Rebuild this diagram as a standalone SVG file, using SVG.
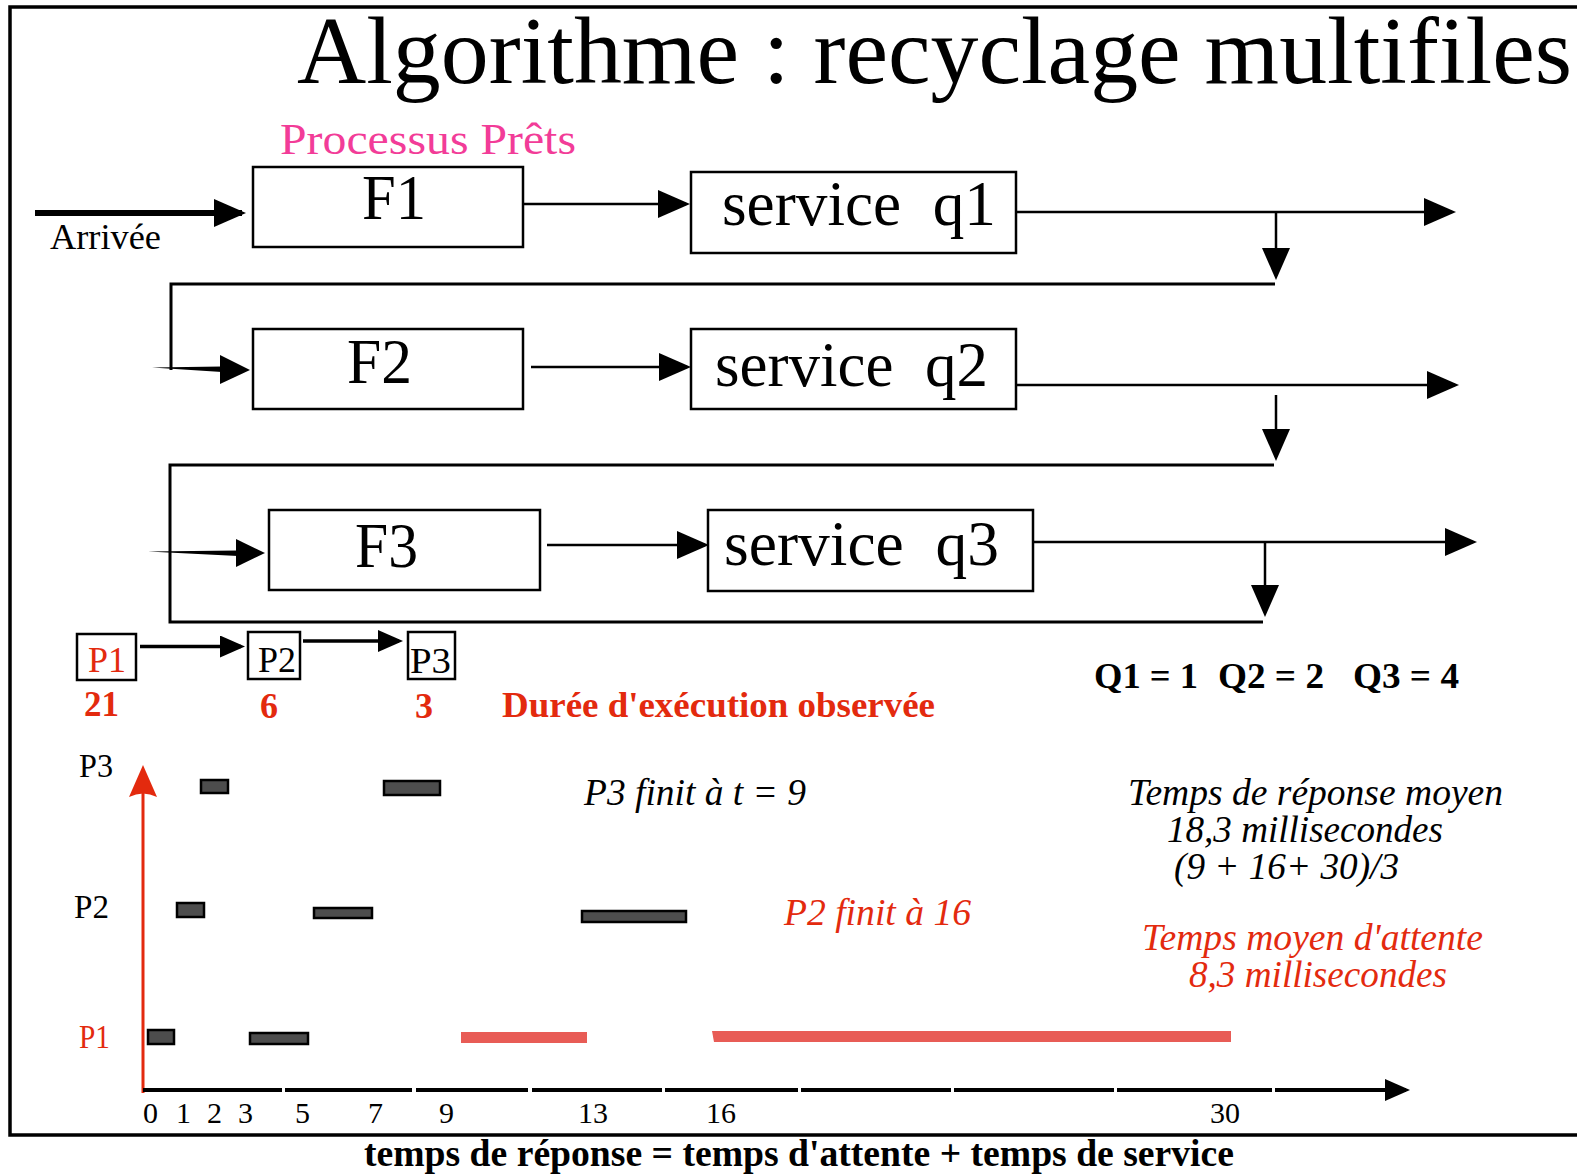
<svg xmlns="http://www.w3.org/2000/svg" width="1577" height="1176" viewBox="0 0 1577 1176">
  <style>
    .serif { font-family: "Liberation Serif", "Times New Roman", serif; }
    .box { fill: #fff; stroke: #000; stroke-width: 2.5; }
    .big { font-size: 63px; fill: #000; }
    .wire { stroke: #000; stroke-width: 2.5; fill: none; }
    .loop { stroke: #000; stroke-width: 3; fill: none; }
    .head { fill: #000; }
    .red { fill: #e32a0e; }
    .bold { font-weight: bold; }
    .it { font-style: italic; font-size: 37px; }
    .tick { font-size: 30px; fill: #000; }
    .run { fill: #4d4d4d; stroke: #000; stroke-width: 2.5; }
    .wait { fill: #e85c56; }
  </style>
  <defs>
    <marker id="arr" viewBox="0 0 32 28" refX="28" refY="14" markerWidth="32" markerHeight="28" markerUnits="userSpaceOnUse" orient="auto">
      <path d="M0,0 L32,14 L0,28 Z" fill="#000"/>
    </marker>
    <marker id="arrS" viewBox="0 0 25 22" refX="21" refY="11" markerWidth="25" markerHeight="22" markerUnits="userSpaceOnUse" orient="auto">
      <path d="M0,0 L25,11 L0,22 Z" fill="#000"/>
    </marker>
  </defs>

  <rect x="0" y="0" width="1577" height="1176" fill="#fff"/>
  <!-- outer frame (open on the right) -->
  <rect x="10" y="7" width="1620" height="1128" fill="none" stroke="#000" stroke-width="3.5"/>

  <text class="serif" x="297" y="83" font-size="95" textLength="1275" lengthAdjust="spacingAndGlyphs">Algorithme : recyclage multifiles</text>
  <text class="serif" x="280" y="154" font-size="45" fill="#f23c98" textLength="296" lengthAdjust="spacingAndGlyphs">Processus Prêts</text>
  <text class="serif" x="50" y="249" font-size="35" textLength="111" lengthAdjust="spacingAndGlyphs">Arrivée</text>

  <!-- queues -->
  <g id="F1">
    <rect class="box" x="253" y="167" width="270" height="80"/>
    <text class="serif big" x="362" y="219" textLength="64" lengthAdjust="spacingAndGlyphs">F1</text>
  </g>
  <g id="F2">
    <rect class="box" x="253" y="329" width="270" height="80"/>
    <text class="serif big" x="347" y="383" textLength="65" lengthAdjust="spacingAndGlyphs">F2</text>
  </g>
  <g id="F3">
    <rect class="box" x="269" y="510" width="271" height="80"/>
    <text class="serif big" x="355" y="567" textLength="63" lengthAdjust="spacingAndGlyphs">F3</text>
  </g>

  <!-- service stages -->
  <g id="q1">
    <rect class="box" x="691" y="172" width="325" height="81"/>
    <text class="serif big" x="722" y="225" xml:space="preserve" textLength="274" lengthAdjust="spacingAndGlyphs">service  q1</text>
  </g>
  <g id="q2">
    <rect class="box" x="691" y="329" width="325" height="80"/>
    <text class="serif big" x="715" y="386" xml:space="preserve" textLength="273" lengthAdjust="spacingAndGlyphs">service  q2</text>
  </g>
  <g id="q3">
    <rect class="box" x="708" y="510" width="325" height="81"/>
    <text class="serif big" x="724" y="565" xml:space="preserve" textLength="275" lengthAdjust="spacingAndGlyphs">service  q3</text>
  </g>

  <!-- process chips -->
  <g id="P1">
    <rect class="box" x="77" y="634" width="59" height="46"/>
    <text class="serif red" x="88" y="672" font-size="36" textLength="38" lengthAdjust="spacingAndGlyphs">P1</text>
    <text class="serif bold red" x="84" y="716" font-size="36" textLength="35" lengthAdjust="spacingAndGlyphs">21</text>
  </g>
  <g id="P2">
    <rect class="box" x="248" y="632" width="52" height="47"/>
    <text class="serif" x="258" y="672" font-size="36" textLength="38" lengthAdjust="spacingAndGlyphs">P2</text>
    <text class="serif bold red" x="260" y="718" font-size="36">6</text>
  </g>
  <g id="P3">
    <rect class="box" x="408" y="632" width="47" height="47"/>
    <text class="serif" x="410" y="673" font-size="36" textLength="41" lengthAdjust="spacingAndGlyphs">P3</text>
    <text class="serif bold red" x="415" y="718" font-size="36">3</text>
  </g>

  <!-- connectors -->
  <g id="connectors">
    <!-- arrival -->
    <line x1="35" y1="213" x2="242" y2="213" stroke="#000" stroke-width="6" marker-end="url(#arr)"/>
    <!-- queue to service -->
    <line class="wire" x1="524" y1="204" x2="686" y2="204" marker-end="url(#arr)"/>
    <line class="wire" x1="531" y1="367" x2="687" y2="367" marker-end="url(#arr)"/>
    <line class="wire" x1="547" y1="545" x2="705" y2="545" marker-end="url(#arr)"/>
    <!-- service outputs -->
    <line class="wire" x1="1016" y1="212" x2="1452" y2="212" marker-end="url(#arr)"/>
    <line class="wire" x1="1016" y1="385" x2="1455" y2="385" marker-end="url(#arr)"/>
    <line class="wire" x1="1033" y1="542" x2="1473" y2="542" marker-end="url(#arr)"/>
    <!-- quantum expired: back to lower queue -->
    <line class="wire" x1="1276" y1="212" x2="1276" y2="276" marker-end="url(#arr)"/>
    <line class="wire" x1="1276" y1="395" x2="1276" y2="457" marker-end="url(#arr)"/>
    <line class="wire" x1="1265" y1="542" x2="1265" y2="613" marker-end="url(#arr)"/>
    <!-- loop into F2 -->
    <polyline class="loop" points="1275,284 171,284 171,370"/>
    <polygon class="head" points="152,367.5 222,366.5 222,372"/>
    <polygon class="head" points="220,355 250,370 220,384"/>
    <!-- loop into F3 -->
    <polyline class="loop" points="1274,465 170,465 170,622 1263,622"/>
    <polygon class="head" points="148,551.5 238,550.5 238,556"/>
    <polygon class="head" points="236,539 265,553 236,567"/>
    <!-- process order -->
    <line x1="140" y1="646.5" x2="241" y2="646.5" stroke="#000" stroke-width="3.5" marker-end="url(#arrS)"/>
    <line x1="303" y1="641" x2="399" y2="641" stroke="#000" stroke-width="3.5" marker-end="url(#arrS)"/>
  </g>

  <text class="serif bold red" x="502" y="717" font-size="36" textLength="433" lengthAdjust="spacingAndGlyphs">Durée d'exécution observée</text>
  <g class="serif bold" font-size="36">
    <text x="1094" y="688" textLength="104" lengthAdjust="spacingAndGlyphs">Q1 = 1</text>
    <text x="1218" y="688" textLength="106" lengthAdjust="spacingAndGlyphs">Q2 = 2</text>
    <text x="1353" y="688" textLength="106" lengthAdjust="spacingAndGlyphs">Q3 = 4</text>
  </g>

  <!-- timeline -->
  <g id="chart">
    <text class="serif" x="79" y="777" font-size="33" textLength="34" lengthAdjust="spacingAndGlyphs">P3</text>
    <text class="serif" x="74" y="918" font-size="33" textLength="35" lengthAdjust="spacingAndGlyphs">P2</text>
    <text class="serif red" x="79" y="1048" font-size="33" textLength="31" lengthAdjust="spacingAndGlyphs">P1</text>

    <!-- vertical axis -->
    <line x1="143" y1="1093" x2="143" y2="790" stroke="#e32a0e" stroke-width="3"/>
    <path d="M143,765 L157,797 Q143,790 129,797 Z" fill="#e32a0e"/>

    <!-- time axis -->
    <g stroke="#000" stroke-width="4">
      <line x1="143" y1="1090" x2="282" y2="1090"/>
      <line x1="285" y1="1090" x2="412" y2="1090"/>
      <line x1="416" y1="1090" x2="528" y2="1090"/>
      <line x1="532" y1="1090" x2="662" y2="1090"/>
      <line x1="665" y1="1090" x2="798" y2="1090"/>
      <line x1="801" y1="1090" x2="951" y2="1090"/>
      <line x1="954" y1="1090" x2="1114" y2="1090"/>
      <line x1="1117" y1="1090" x2="1272" y2="1090"/>
      <line x1="1275" y1="1090" x2="1406" y2="1090" marker-end="url(#arrS)"/>
    </g>
    <g class="serif tick">
      <text x="143" y="1123">0</text>
      <text x="176" y="1123">1</text>
      <text x="207" y="1123">2</text>
      <text x="238" y="1123">3</text>
      <text x="295" y="1123">5</text>
      <text x="368" y="1123">7</text>
      <text x="439" y="1123">9</text>
      <text x="578" y="1123">13</text>
      <text x="706" y="1123">16</text>
      <text x="1210" y="1123">30</text>
    </g>

    <!-- CPU slices -->
    <rect class="run" x="201" y="780" width="27" height="13"/>
    <rect class="run" x="384" y="781" width="56" height="14"/>
    <rect class="run" x="177" y="903" width="27" height="14"/>
    <rect class="run" x="314" y="908" width="58" height="10"/>
    <rect class="run" x="582" y="911" width="104" height="11"/>
    <rect class="run" x="148" y="1030" width="26" height="14"/>
    <rect class="run" x="250" y="1033" width="58" height="11"/>
    <rect class="wait" x="461" y="1032" width="126" height="11"/>
    <polygon class="wait" points="712,1031 1231,1031 1231,1042 714,1042"/>

    <text class="serif it" x="584" y="805" textLength="222" lengthAdjust="spacingAndGlyphs">P3 finit à t = 9</text>
    <text class="serif it red" x="784" y="925" textLength="187" lengthAdjust="spacingAndGlyphs">P2 finit à 16</text>
    <text class="serif it" x="1128" y="805" textLength="375" lengthAdjust="spacingAndGlyphs">Temps de réponse moyen</text>
    <text class="serif it" x="1167" y="842" textLength="276" lengthAdjust="spacingAndGlyphs">18,3 millisecondes</text>
    <text class="serif it" x="1174" y="879" textLength="225" lengthAdjust="spacingAndGlyphs">(9 + 16+ 30)/3</text>
    <text class="serif it red" x="1142" y="950" textLength="341" lengthAdjust="spacingAndGlyphs">Temps moyen d'attente</text>
    <text class="serif it red" x="1189" y="987" textLength="258" lengthAdjust="spacingAndGlyphs">8,3 millisecondes</text>
  </g>

  <text class="serif bold" x="364" y="1166" font-size="37" textLength="870" lengthAdjust="spacingAndGlyphs">temps de réponse = temps d'attente + temps de service</text>
</svg>
